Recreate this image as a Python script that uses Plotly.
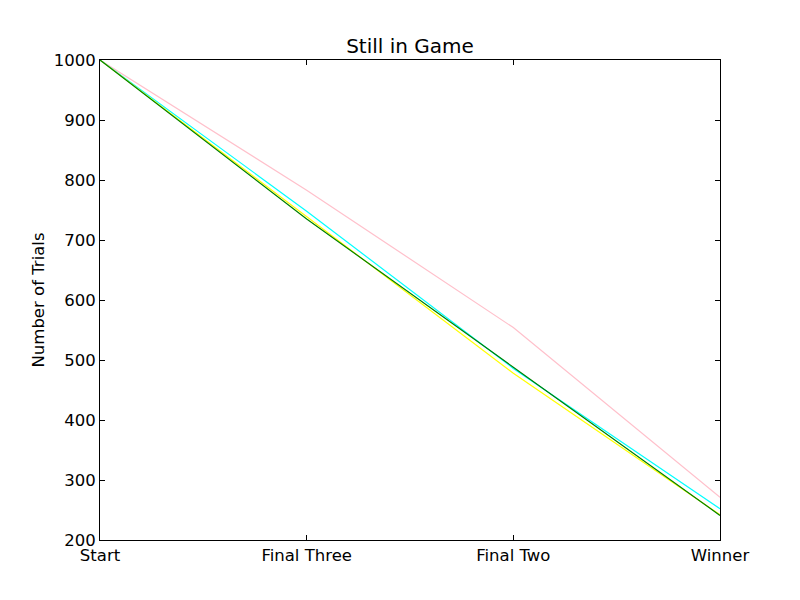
import plotly.graph_objects as go

# stages of the game
stages = ['Start', 'Final Three', 'Final Two', 'Winner']

# trials still in the game at each stage, one list per strategy
pink_vals = [1000, 783, 554, 271]
cyan_vals = [1000, 748, 486, 252]
yellow_vals = [1000, 739, 478, 242]
green_vals = [1000, 735, 488, 241]

series = [
    ('pink', pink_vals),
    ('cyan', cyan_vals),
    ('yellow', yellow_vals),
    ('green', green_vals),
]
line_colors = {'pink': 'pink', 'cyan': 'cyan', 'yellow': 'yellow', 'green': '#008000'}

fig = go.Figure()
x_idx = list(range(len(stages)))
for name, vals in series:
    fig.add_trace(go.Scatter(x=x_idx, y=vals, mode='lines', name=name,
                             line=dict(color=line_colors[name], width=1.2)))

axis_style = dict(showgrid=False, zeroline=False, showline=True, linecolor='black',
                  linewidth=1, mirror='ticks', ticks='inside', ticklen=5,
                  tickcolor='black', tickfont=dict(size=16.5, color='black'))

# page has an 8px body margin, so the plot box is shifted back by that much
fig.update_layout(
    width=800, height=600,
    margin=dict(l=92, r=88, t=52, b=68),
    paper_bgcolor='white', plot_bgcolor='white',
    font=dict(family='DejaVu Sans', color='black'),
    showlegend=False,
    title=dict(text='Still in Game', xref='paper', x=0.5, xanchor='center', y=0.937, yanchor='middle',
               font=dict(size=20, color='black')),
    xaxis=dict(range=[0, 3], tickmode='array', tickvals=x_idx, ticktext=stages, **axis_style),
    yaxis=dict(range=[200, 1000], dtick=100, title=dict(text='Number of Trials', font=dict(size=16.5), standoff=4),
               **axis_style),
)

fig.write_html("out.html")
